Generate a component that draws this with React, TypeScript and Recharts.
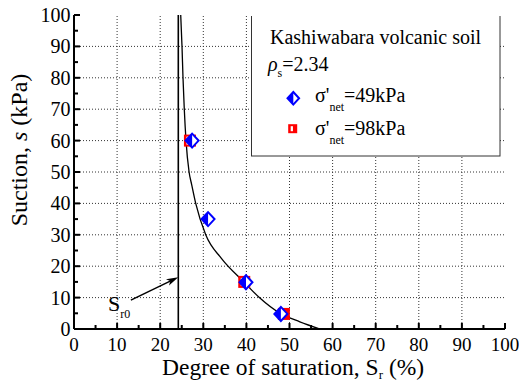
import React from 'react';
import { ComposedChart, XAxis, YAxis, Line, Scatter, ReferenceLine } from 'recharts';

// ---- data ----
const curveSr = [24.76, 25.06, 25.29, 25.59, 25.99, 26.7, 27.3, 28.24, 30.56, 34.2, 39.4, 43.0, 47.8, 52.4, 57.1];
const curveS = [100, 90, 80, 70, 60, 50, 46, 40, 30, 22.5, 15, 10, 5, 2.3, 0];

const sr49 = [27.4, 31.1, 39.9, 48.0];
const s49 = [60, 35, 14.9, 4.8];

const sr98 = [26.9, 39.5, 48.7];
const s98 = [60, 15, 4.8];

const axisTicks = [0, 5, 10, 15, 20, 25, 30, 35, 40, 45, 50, 55, 60, 65, 70, 75, 80, 85, 90, 95, 100];
const gridValues = [10, 20, 30, 40, 50, 60, 70, 80, 90];

const sr0Value = 24.2;
const arrowStart = { x: 13.2, y: 9.2 };
const arrowEnd = { x: 24.2, y: 16.5 };

const legendTitle = 'Kashiwabara volcanic soil';
const rhoValue = '=2.34';
const series49Label = '=49kPa';
const series98Label = '=98kPa';

// ---- tables built from the arrays ----
const curveData = curveSr.map((sr, i) => ({ sr, s: curveS[i] }));
const data49 = sr49.map((sr, i) => ({ sr, s: s49[i] }));
const data98 = sr98.map((sr, i) => ({ sr, s: s98[i] }));

const FONT = 'Liberation Serif';
const BLUE = '#0000ff';
const RED = '#ff0000';

const isMajor = (v: number) => v % 10 === 0;

const BottomTick = (props: any) => {
  const { x, y, payload } = props;
  const v = payload.value;
  return (
    <g>
      <line x1={x} x2={x} y1={y} y2={y - (isMajor(v) ? 6 : 4)} stroke="#000" strokeWidth={2} />
      {isMajor(v) && (
        <text x={x} y={y + 21.5} textAnchor="middle" fontSize={19} fontFamily={FONT} fill="#000">
          {v}
        </text>
      )}
    </g>
  );
};

const LeftTick = (props: any) => {
  const { x, y, payload } = props;
  const v = payload.value;
  return (
    <g>
      <line x1={x} x2={x + (isMajor(v) ? 6 : 4)} y1={y} y2={y} stroke="#000" strokeWidth={2} />
      {isMajor(v) && (
        <text x={x - 3.5} y={y + 7} textAnchor="end" fontSize={20} fontFamily={FONT} fill="#000">
          {v}
        </text>
      )}
    </g>
  );
};

const TopTick = (props: any) => {
  const { x, y, payload } = props;
  const v = payload.value;
  return <line x1={x} x2={x} y1={y} y2={y + (isMajor(v) ? 6 : 4)} stroke="#000" strokeWidth={2} />;
};

const RightTick = (props: any) => {
  const { x, y, payload } = props;
  const v = payload.value;
  return <line x1={x} x2={x - (isMajor(v) ? 6 : 4)} y1={y} y2={y} stroke="#000" strokeWidth={2} />;
};

const DiamondMark = ({ cx, cy, r = 6.5 }: any) => {
  if (cx == null || cy == null) return null;
  const h = r + 0.5;
  return (
    <g>
      <polygon
        points={`${cx},${cy - h} ${cx + r},${cy} ${cx},${cy + h} ${cx - r},${cy}`}
        fill="#fff"
        stroke={BLUE}
        strokeWidth={2}
      />
      <polygon points={`${cx},${cy - h} ${cx},${cy + h} ${cx - r},${cy}`} fill={BLUE} />
    </g>
  );
};

const SquareMark = ({ cx, cy, half = 6 }: any) => {
  if (cx == null || cy == null) return null;
  const inner = half - 2;
  return (
    <g>
      <rect x={cx - half} y={cy - half} width={half * 2} height={half * 2} fill={RED} />
      <rect x={cx - inner + 0.5} y={cy - inner} width={inner * 0.9} height={inner * 2} fill="#fff" />
    </g>
  );
};

const ArrowShape = (p: any) => {
  const { x1, y1, x2, y2 } = p;
  if ([x1, y1, x2, y2].some((v) => v == null || isNaN(v))) return null;
  const dx = x2 - x1;
  const dy = y2 - y1;
  const len = Math.hypot(dx, dy) || 1;
  const ux = dx / len;
  const uy = dy / len;
  const hl = 12;
  const hw = 3.5;
  const bx = x2 - ux * hl;
  const by = y2 - uy * hl;
  const nx = x2 - ux * (hl - 3);
  const ny = y2 - uy * (hl - 3);
  const px = -uy;
  const py = ux;
  return (
    <g>
      <line x1={x1} y1={y1} x2={nx} y2={ny} stroke="#000" strokeWidth={1.5} />
      <polygon
        points={`${x2},${y2} ${bx + px * hw},${by + py * hw} ${nx},${ny} ${bx - px * hw},${by - py * hw}`}
        fill="#000"
      />
      <text x={x1 - 23} y={y1 + 11} fontSize={22} fontFamily={FONT} fill="#000">
        S
        <tspan fontSize={12} dy={7}>
          r0
        </tspan>
      </text>
    </g>
  );
};

const XTitle = (props: any) => {
  const vb = props.viewBox || { x: 74, y: 329 };
  return (
    <text x={vb.x + 88} y={vb.y + 45.5} fontSize={23.5} fontFamily={FONT} fill="#000">
      Degree of saturation, S
      <tspan fontSize={13} dy={4}>
        r
      </tspan>
      <tspan dy={-4}> (%)</tspan>
    </text>
  );
};

const YTitle = (props: any) => {
  const vb = props.viewBox || { x: 0, y: 15 };
  const x = vb.x + 27;
  const y = vb.y + 135;
  return (
    <text x={x} y={y} transform={`rotate(-90, ${x}, ${y})`} textAnchor="middle" fontSize={24} fontFamily={FONT} fill="#000">
      Suction, <tspan fontStyle="italic">s</tspan> (kPa)
    </text>
  );
};

const LegendBox = () => (
  <svg width={250} height={141} style={{ position: 'absolute', left: 251, top: 16 }}>
    <rect x={0.5} y={-2} width={248.5} height={142} fill="#fff" stroke="#333" strokeWidth={1} />
    <text x={19} y={27.5} fontSize={20} fontFamily={FONT} fill="#000">
      {legendTitle}
    </text>
    <text x={17} y={54.7} fontSize={20} fontFamily={FONT} fill="#000">
      <tspan fontStyle="italic">ρ</tspan>
      <tspan fontSize={12} dy={6}>
        s
      </tspan>
      <tspan dy={-6}>{rhoValue}</tspan>
    </text>
    <DiamondMark cx={42.3} cy={82.3} r={5.8} />
    <text x={64} y={86} fontSize={20} fontFamily={FONT} fill="#000">
      σ'
      <tspan fontSize={12} dy={8.5}>
        net
      </tspan>
      <tspan dy={-8.5}>{series49Label}</tspan>
    </text>
    <SquareMark cx={41.7} cy={112.7} half={4.5} />
    <text x={64} y={119} fontSize={20} fontFamily={FONT} fill="#000">
      σ'
      <tspan fontSize={12} dy={8.5}>
        net
      </tspan>
      <tspan dy={-8.5}>{series98Label}</tspan>
    </text>
  </svg>
);

export default function App() {
  return (
    <div style={{ position: 'absolute', left: 0, top: 0, width: 519, height: 382, background: '#fff' }}>
      <ComposedChart width={519} height={382} margin={{ top: 15, right: 14, bottom: 0, left: 0 }}>
        <XAxis
          dataKey="sr"
          type="number"
          domain={[0, 100]}
          allowDataOverflow
          ticks={axisTicks}
          interval={0}
          height={53}
          tickSize={0}
          tickMargin={0}
          tickLine={false}
          tick={BottomTick}
          axisLine={{ stroke: '#000', strokeWidth: 2 }}
          label={XTitle}
        />
        <XAxis
          xAxisId="top"
          orientation="top"
          type="number"
          domain={[0, 100]}
          allowDataOverflow
          ticks={axisTicks}
          interval={0}
          height={0}
          tickSize={0}
          tickMargin={0}
          tickLine={false}
          tick={TopTick}
          axisLine={{ stroke: '#000', strokeWidth: 2 }}
        />
        <YAxis
          dataKey="s"
          type="number"
          domain={[0, 100]}
          allowDataOverflow
          ticks={axisTicks}
          interval={0}
          width={74}
          tickSize={0}
          tickMargin={0}
          tickLine={false}
          tick={LeftTick}
          axisLine={{ stroke: '#000', strokeWidth: 2 }}
          label={YTitle}
        />
        <YAxis
          yAxisId="right"
          orientation="right"
          type="number"
          domain={[0, 100]}
          allowDataOverflow
          ticks={axisTicks}
          interval={0}
          width={0}
          tickSize={0}
          tickMargin={0}
          tickLine={false}
          tick={RightTick}
          axisLine={{ stroke: '#000', strokeWidth: 2 }}
        />
        {gridValues.map((v) => (
          <ReferenceLine key={'gx' + v} x={v} stroke="#333" strokeWidth={1} strokeDasharray="1 2" />
        ))}
        {gridValues.map((v) => (
          <ReferenceLine key={'gy' + v} y={v} stroke="#333" strokeWidth={1} strokeDasharray="1 2" />
        ))}
        <ReferenceLine x={sr0Value} stroke="#000" strokeWidth={1.6} />
        <ReferenceLine segment={[arrowStart, arrowEnd]} shape={ArrowShape} />
        <Line
          data={curveData}
          dataKey="s"
          type="monotone"
          stroke="#000"
          strokeWidth={1.3}
          dot={false}
          activeDot={false}
          isAnimationActive={false}
        />
        <Scatter data={data98} dataKey="s" shape={SquareMark} isAnimationActive={false} />
        <Scatter data={data49} dataKey="s" shape={DiamondMark} isAnimationActive={false} />
      </ComposedChart>
      <LegendBox />
    </div>
  );
}
